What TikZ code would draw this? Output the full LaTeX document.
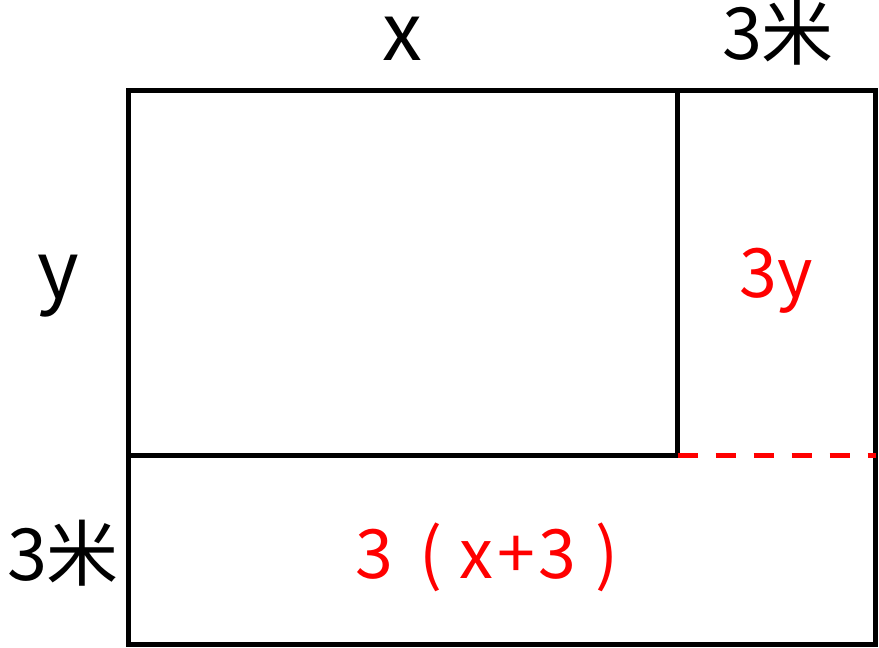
\documentclass[tikz,border=0pt]{standalone}
\usepackage{fontspec}
\setmainfont{Noto Sans CJK SC}
\definecolor{myred}{RGB}{255,0,0}
\begin{document}
\begin{tikzpicture}[x=1pt,y=-1pt,
  edge/.style={line width=5pt,black},
  dashedge/.style={line width=5pt,myred,dash pattern=on 20pt off 18pt},
  bigtxt/.style={inner sep=0pt,anchor=base,font=\fontsize{80}{90}\selectfont},
  midtxt/.style={inner sep=0pt,anchor=base,font=\fontsize{72}{80}\selectfont},
  redtxt/.style={inner sep=0pt,anchor=base,text=myred,font=\fontsize{68}{78}\selectfont}]
\useasboundingbox (0,0) rectangle (879,648);
\coordinate (tl) at (128.5,90.5);
\coordinate (br) at (875.5,644.5);
\coordinate (tm) at (677.5,90.5);
\coordinate (mm) at (677.5,455);
\coordinate (ml) at (128.5,455);
\coordinate (mr) at (875.5,455);
\draw[edge] (tl) rectangle (br);
\draw[edge] (tm) -- (mm) -- (ml);
\draw[dashedge] (mm) -- (mr);
\node[bigtxt] (lx) at (402.5,60) {x};
\node[midtxt] (l3top) at (778,59) {3米};
\node[bigtxt] (ly) at (58,298) {y};
\node[midtxt] (l3left) at (63,580) {3米};
\node[redtxt] (l3y) at (776,297) {3y};
\node[redtxt] (lexpr) at (487,578) {3\hspace{26pt}(\hspace{17pt}x\hspace{4pt}+\hspace{4pt}3\hspace{19pt})};
\end{tikzpicture}
\end{document}
